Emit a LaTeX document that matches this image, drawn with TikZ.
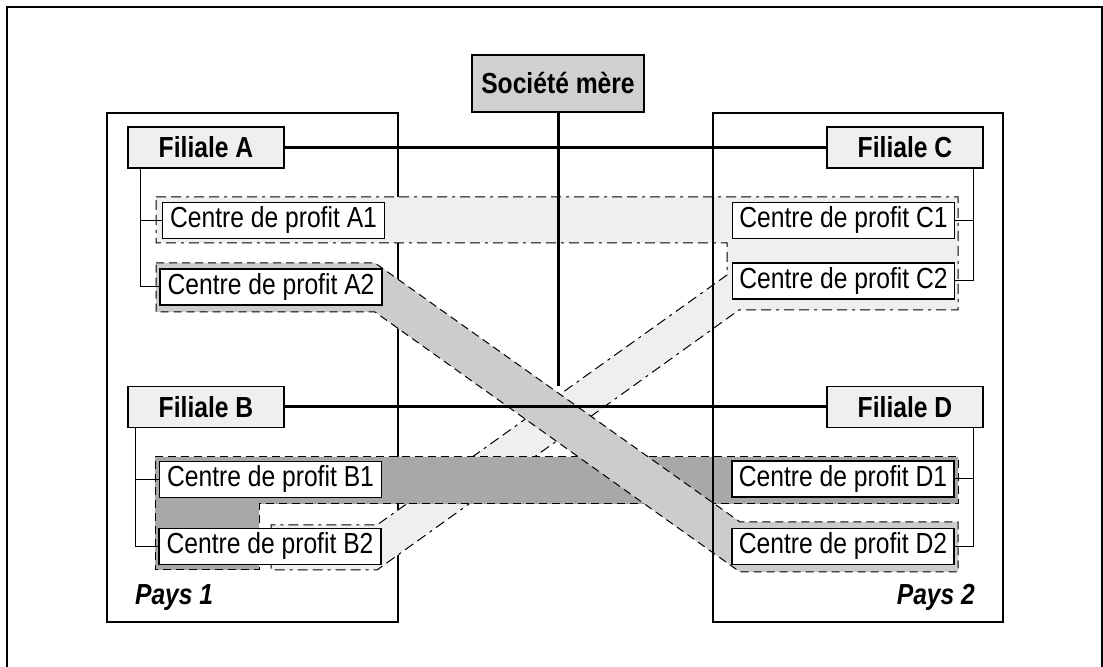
\documentclass[tikz,border=0pt]{standalone}
\usepackage{fontspec}
\setmainfont{Liberation Sans}[FakeStretch=0.85]
\definecolor{bandLight}{HTML}{EFEFEF}
\definecolor{bandMid}{HTML}{CCCCCC}
\definecolor{bandDark}{HTML}{A8A8A8}
\definecolor{mereGray}{HTML}{D0D0D0}
\usetikzlibrary{positioning}
\newcommand{\diagfont}{\fontsize{14.5}{17}\selectfont}
\tikzset{
  centre/.style={draw, line width=0.6pt, fill=white, minimum width=111pt, minimum height=18pt, inner sep=0pt},
  filiale/.style={draw, line width=0.6pt, fill=bandLight, minimum width=78pt, minimum height=20.5pt, inner sep=0pt, font=\diagfont\bfseries},
  dashA/.style={dash pattern=on 5pt off 2.5pt on 5pt off 2.5pt on 1.5pt off 2.5pt, line width=0.5pt},
  dashB/.style={dash pattern=on 4pt off 2.5pt, line width=0.5pt},
}
\begin{document}
\begin{tikzpicture}[x=0.5pt, y=-0.5pt, font=\diagfont]
\useasboundingbox (0,0) rectangle (1103,667);
% frame
\draw[line width=1.1pt] (7,667) |- (1102,7) -- (1102,667);
\draw[line width=0.6pt] (107,113) rectangle (398,622);
% bands
\draw[dashA, fill=bandLight] (156,197) -- (958,197) -- (958,310) -- (739,310) -- (377,570) -- (271,570)
  -- (271,525) -- (377,525) -- (727,275) -- (727,243) -- (156,243) -- cycle;
\draw[dashB, fill=bandDark] (155,457) -- (958,457) -- (958,504) -- (259,504) -- (259,570) -- (155,570) -- cycle;
\draw[dashB, fill=bandMid] (156,263) -- (375,263) -- (740,522) -- (958,522) -- (958,572) -- (740,572)
  -- (375,312) -- (156,312) -- cycle;
\draw[line width=0.6pt] (713,113) rectangle (1003,622);
% companies
\node[draw, line width=0.6pt, fill=mereGray, minimum width=86pt, minimum height=28.5pt, font=\diagfont\bfseries] (mere) at (558,83.5) {Société mère};
\node[filiale] (filA) at (206,147.5) {Filiale A};
\node[filiale] (filC) at (905,147.5) {Filiale C};
\node[filiale] (filB) at (206,407) {Filiale B};
\node[filiale] (filD) at (905,407) {Filiale D};
% profit centres
\node[centre] (cpA1) at (273.5,220.5) {Centre de profit A1};
\node[centre] (cpA2) at (271,287) {Centre de profit A2};
\node[centre] (cpB1) at (270.5,479.5) {Centre de profit B1};
\node[centre] (cpB2) at (270,546.5) {Centre de profit B2};
\node[centre] (cpC1) at (843.5,220.5) {Centre de profit C1};
\node[centre] (cpC2) at (843.5,281) {Centre de profit C2};
\node[centre] (cpD1) at (843,479) {Centre de profit D1};
\node[centre] (cpD2) at (843,546.5) {Centre de profit D2};
% countries
\node[font=\diagfont\bfseries\itshape, anchor=base west] (pays1) at (128,605) {Pays 1};
\node[font=\diagfont\bfseries\itshape, anchor=base east] (pays2) at (982,605) {Pays 2};
% links
\draw[line width=1.5pt] (filA.east) -- (filC.west);
\draw[line width=1.5pt] (filB.east) -- (filD.west);
\draw[line width=1.5pt] (mere.south) -- (mere.south |- filB.north);
\draw[line width=0.5pt] ([xshift=6.5pt]filA.south west) |- (cpA1.west);
\draw[line width=0.5pt] ([xshift=6.5pt]filA.south west) |- (cpA2.west);
\draw[line width=0.5pt] ([xshift=4pt]filB.south west) |- (cpB1.west);
\draw[line width=0.5pt] ([xshift=4pt]filB.south west) |- (cpB2.west);
\draw[line width=0.5pt] ([xshift=-5pt]filC.south east) |- (cpC1.east);
\draw[line width=0.5pt] ([xshift=-5pt]filC.south east) |- (cpC2.east);
\draw[line width=0.5pt] ([xshift=-5pt]filD.south east) |- (cpD1.east);
\draw[line width=0.5pt] ([xshift=-5pt]filD.south east) |- (cpD2.east);
\end{tikzpicture}
\end{document}
